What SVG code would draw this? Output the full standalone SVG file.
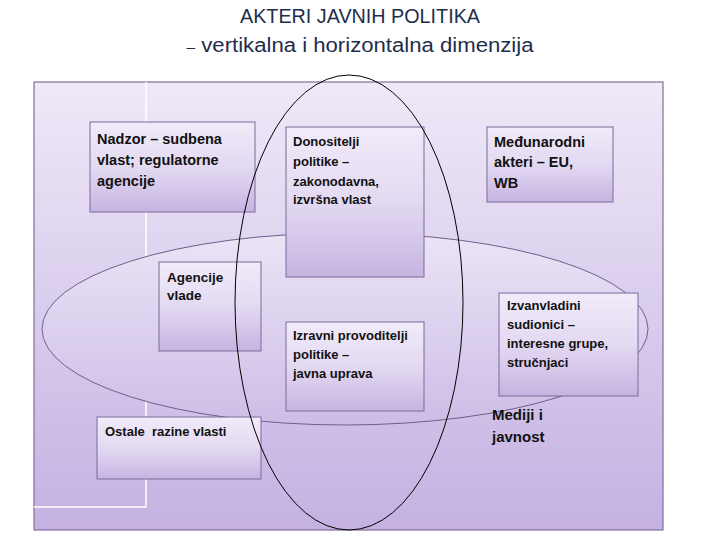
<svg xmlns="http://www.w3.org/2000/svg" width="720" height="540" viewBox="0 0 720 540">
<defs>
<linearGradient id="bg" x1="0" y1="0" x2="0" y2="1">
<stop offset="0" stop-color="#efe9f8"/>
<stop offset="1" stop-color="#c4b1e2"/>
</linearGradient>
<linearGradient id="ell" x1="0" y1="0" x2="0" y2="1">
<stop offset="0" stop-color="#ebe4f6"/>
<stop offset="1" stop-color="#cdbde6"/>
</linearGradient>
<linearGradient id="box" x1="0" y1="0" x2="0" y2="1">
<stop offset="0" stop-color="#f1ebf9"/>
<stop offset="0.5" stop-color="#e3d9f2"/>
<stop offset="1" stop-color="#c6b4e1"/>
</linearGradient>
<style>
.box{fill:url(#box);stroke:#7b6a9b;stroke-width:1}
.t{font-family:"Liberation Sans",Arial,sans-serif;font-weight:bold;fill:#111}
.title{font-family:"Liberation Sans",Arial,sans-serif;fill:#1f2d4d}
</style>
</defs>
<rect width="720" height="540" fill="#ffffff"/>
<text class="title" x="360" y="23" font-size="20" text-anchor="middle" textLength="240" lengthAdjust="spacingAndGlyphs">AKTERI JAVNIH POLITIKA</text>
<text class="title" x="360" y="52" font-size="20" text-anchor="middle" textLength="347" lengthAdjust="spacingAndGlyphs"><tspan font-size="14">–</tspan> vertikalna i horizontalna dimenzija</text>
<rect x="34" y="82" width="629" height="448" fill="url(#bg)" stroke="#7f6f9e" stroke-width="1.2"/>
<path d="M146 82 V507 H34" fill="none" stroke="#ffffff" stroke-width="1.5"/>
<g id="connectors">
<ellipse id="horizontal" cx="345" cy="329" rx="303" ry="96" fill="url(#ell)" stroke="#6e5f8c" stroke-width="1"/>
</g>
<g id="nadzor"><rect class="box" x="90" y="122" width="165" height="90"/>
<text class="t" font-size="14.5"><tspan x="97" y="144">Nadzor – sudbena</tspan><tspan x="97" y="165">vlast; regulatorne</tspan><tspan x="97" y="186">agencije</tspan></text></g>
<g id="donositelji"><rect class="box" x="286" y="127" width="138" height="150"/>
<text class="t" font-size="13"><tspan x="293" y="146">Donositelji</tspan><tspan x="293" y="166">politike –</tspan><tspan x="293" y="186">zakonodavna,</tspan><tspan x="293" y="204">izvršna vlast</tspan></text></g>
<g id="medunarodni"><rect class="box" x="487" y="127" width="126" height="75"/>
<text class="t" font-size="14.5"><tspan x="494" y="147">Međunarodni</tspan><tspan x="494" y="167">akteri – EU,</tspan><tspan x="494" y="188">WB</tspan></text></g>
<g id="agencije"><rect class="box" x="159" y="262" width="102" height="89"/>
<text class="t" font-size="13.5"><tspan x="167" y="282">Agencije</tspan><tspan x="167" y="300">vlade</tspan></text></g>
<g id="izravni"><rect class="box" x="286" y="322" width="138" height="89"/>
<text class="t" font-size="13"><tspan x="293" y="340">Izravni provoditelji</tspan><tspan x="293" y="359">politike –</tspan><tspan x="293" y="378">javna uprava</tspan></text></g>
<g id="izvanvladini"><rect class="box" x="499" y="293" width="139" height="103"/>
<text class="t" font-size="13"><tspan x="507" y="310">Izvanvladini</tspan><tspan x="507" y="329">sudionici –</tspan><tspan x="507" y="348">interesne grupe,</tspan><tspan x="507" y="367">stručnjaci</tspan></text></g>
<g id="ostale"><rect class="box" x="97" y="417" width="164" height="62"/>
<text class="t" font-size="13" x="105" y="436" xml:space="preserve">Ostale  razine vlasti</text></g>
<g id="mediji">
<text class="t" font-size="15"><tspan x="492" y="420">Mediji i</tspan><tspan x="492" y="442">javnost</tspan></text></g>
<g id="connectors-top">
<ellipse id="vertical" cx="349" cy="302.5" rx="114" ry="227.5" fill="none" stroke="#000" stroke-width="1"/>
</g>
</svg>
